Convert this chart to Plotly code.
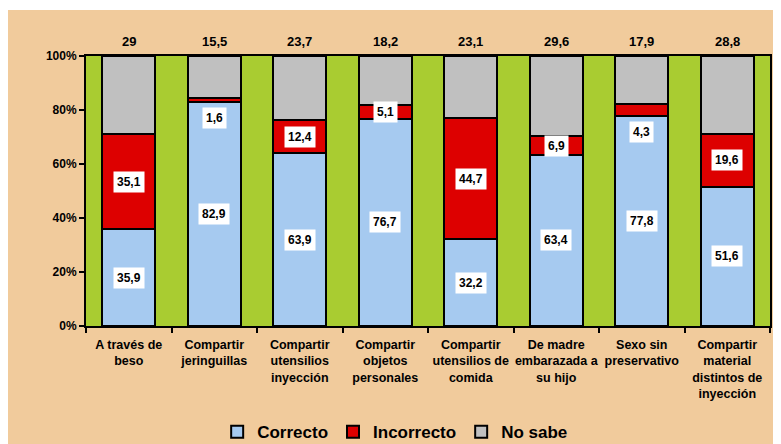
"""
Conocimiento de vías de transmisión - barras apiladas al 100%
"""
import plotly.graph_objects as go

CATEGORIAS = ['A través de<br>beso', 'Compartir<br>jeringuillas', 'Compartir<br>utensilios<br>inyección',
              'Compartir<br>objetos<br>personales', 'Compartir<br>utensilios de<br>comida',
              'De madre<br>embarazada a<br>su hijo', 'Sexo sin<br>preservativo',
              'Compartir<br>material<br>distintos de<br>inyección']
CORRECTO = [35.9, 82.9, 63.9, 76.7, 32.2, 63.4, 77.8, 51.6]
INCORRECTO = [35.1, 1.6, 12.4, 5.1, 44.7, 6.9, 4.3, 19.6]
NO_SABE = [29, 15.5, 23.7, 18.2, 23.1, 29.6, 17.9, 28.8]

FONT = 'Liberation Sans, Arial, sans-serif'
BLUE = '#A6CAF0'
RED = '#DD0000'
GREY = '#C0C0C0'
GREEN = '#A9CC31'
BEIGE = '#F1CB9C'


def fmt(v):
    return ('%g' % v).replace('.', ',')


fig = go.Figure()
for name, vals, color in [('Correcto', CORRECTO, BLUE), ('Incorrecto', INCORRECTO, RED),
                          ('No sabe', NO_SABE, GREY)]:
    fig.add_trace(go.Bar(x=CATEGORIAS, y=vals, name='<b>%s</b>' % name, marker_color=color,
                         marker_line=dict(color='black', width=2)))

annotations = []
for cat, c, i, n in zip(CATEGORIAS, CORRECTO, INCORRECTO, NO_SABE):
    box = dict(xref='x', yref='y', showarrow=False, bgcolor='white', borderpad=3,
               font=dict(family=FONT, size=12, color='black'))
    annotations.append(dict(box, x=cat, y=c / 2, text='<b>%s</b>' % fmt(c)))
    # small red segments get their label just below the band
    yi = c + i / 2 if i >= 5 else c - 6
    annotations.append(dict(box, x=cat, y=yi, text='<b>%s</b>' % fmt(i)))
    annotations.append(dict(xref='x', yref='paper', x=cat, y=1.052, yanchor='middle', showarrow=False,
                            text='<b>%s</b>' % fmt(n), font=dict(family=FONT, size=13, color='black')))

fig.update_layout(
    barmode='stack', bargap=0.38,
    width=781, height=444,
    margin=dict(l=78, r=19, t=48, b=126, autoexpand=False),
    paper_bgcolor=BEIGE, plot_bgcolor=GREEN,
    font=dict(family=FONT, color='black'),
    annotations=annotations,
    legend=dict(orientation='h', x=0.452, xanchor='center', y=-0.393, yanchor='middle',
                font=dict(family=FONT, size=17, color='black'), traceorder='normal',
                itemwidth=30),
    shapes=[dict(type='rect', xref='paper', yref='paper', x0=-0.2, x1=1.1,
                 y0=1 + 46 / 270, y1=1 + 48 / 270, fillcolor='white', line_width=0, layer='below')],
)
fig.update_yaxes(range=[0, 100], tickvals=[0, 20, 40, 60, 80, 100],
                 ticktext=['<b>%d%%</b>' % v for v in [0, 20, 40, 60, 80, 100]],
                 ticks='outside', ticklen=5, tickwidth=2, tickcolor='black',
                 showgrid=False, showline=True, linecolor='black', linewidth=2, mirror=True,
                 tickfont=dict(size=12), zeroline=False)
fig.update_xaxes(tickvals=CATEGORIAS, ticktext=['<b>%s</b>' % c for c in CATEGORIAS],
                 tickson='boundaries', ticks='outside', ticklen=5, tickwidth=2, tickcolor='black',
                 showline=True, linecolor='black', linewidth=2, mirror=True,
                 tickfont=dict(size=12.5), tickangle=0, ticklabelstandoff=6)

fig.write_html("out.html")
